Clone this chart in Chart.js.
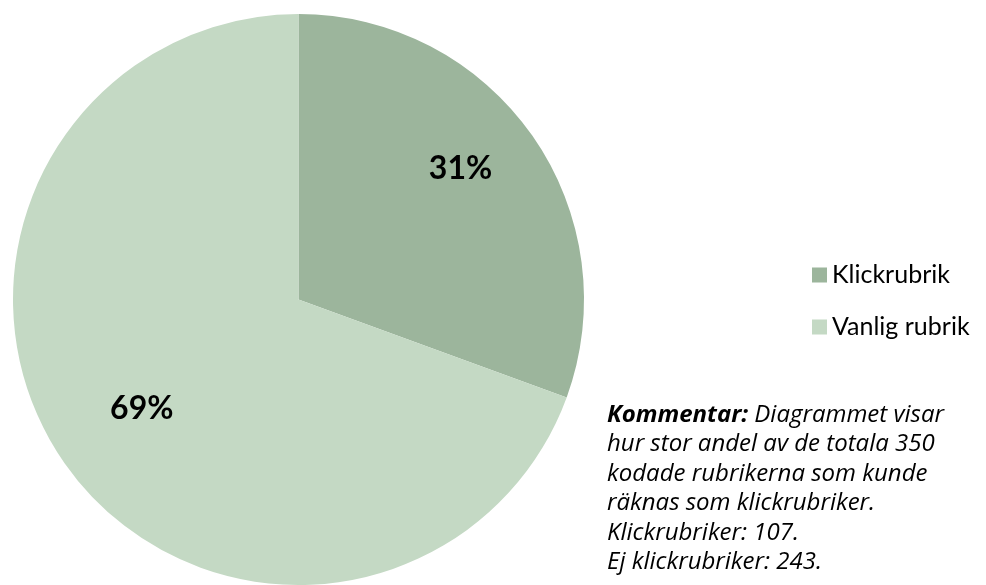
<!DOCTYPE html>
<html>
<head>
<meta charset="utf-8">
<script src="https://cdn.jsdelivr.net/npm/chart.js@4.4.1/dist/chart.umd.min.js"></script>
<style>
  html, body { margin: 0; padding: 0; background: #fff; }
  #wrap { position: relative; width: 986px; height: 585px; }
  #comment {
    position: absolute; left: 607px; top: 398px; white-space: nowrap;
    font-family: "Open Sans", Lato, sans-serif; font-style: italic;
    font-size: 24px; line-height: 29.4px; color: #000;
  }
</style>
</head>
<body>
<div id="wrap">
  <canvas id="pie" width="986" height="585"></canvas>
  <div id="comment"><b>Kommentar:</b> Diagrammet visar<br>hur stor andel av de totala 350<br>kodade rubrikerna som kunde<br>räknas som klickrubriker.<br>Klickrubriker: 107.<br>Ej klickrubriker: 243.</div>
</div>
<script>
// data
const labels = ['Klickrubrik', 'Vanlig rubrik'];
const counts = [107, 243];
const percentLabels = ['31%', '69%'];
const colors = ['#9cb59c', '#c4d9c4'];

// percentage labels inside the slices (Excel-ish placement)
const labelPlace = [{ turn: -0.07, r: 0.73 }, { turn: 0, r: 0.67 }];
const sliceLabels = {
    id: 'sliceLabels',
    afterDatasetsDraw(chart) {
        const ctx = chart.ctx;
        const arcs = chart.getDatasetMeta(0).data;
        ctx.save();
        ctx.font = 'bold 32px Lato, "Open Sans", sans-serif';
        ctx.fillStyle = '#000';
        ctx.textAlign = 'center';
        ctx.textBaseline = 'middle';
        arcs.forEach((arc, i) => {
            const mid = (arc.startAngle + arc.endAngle) / 2 + labelPlace[i].turn;
            const r = arc.outerRadius * labelPlace[i].r;
            ctx.fillText(percentLabels[i], arc.x + Math.cos(mid) * r, arc.y + Math.sin(mid) * r);
        });
        ctx.restore();
    }
};

// legend on the right
const sideLegend = {
    id: 'sideLegend',
    afterDraw(chart) {
        const ctx = chart.ctx;
        ctx.save();
        ctx.font = '25px Lato, "Open Sans", sans-serif';
        ctx.textBaseline = 'middle';
        chart.data.labels.forEach((lab, i) => {
            const y = 275 + i * 52;
            ctx.fillStyle = colors[i];
            ctx.fillRect(812, y - 7.5, 15, 15);
            ctx.fillStyle = '#000';
            ctx.fillText(lab, 832, y);
        });
        ctx.restore();
    }
};

new Chart(document.getElementById('pie'), {
    type: 'pie',
    data: {
        labels: labels,
        datasets: [{
            data: counts,
            backgroundColor: colors,
            borderWidth: 0
        }]
    },
    options: {
        responsive: false,
        animation: false,
        layout: { padding: { left: 13, top: 14, right: 402, bottom: 0 } },
        plugins: { legend: { display: false }, tooltip: { enabled: false } }
    },
    plugins: [sliceLabels, sideLegend]
});
</script>
</body>
</html>
